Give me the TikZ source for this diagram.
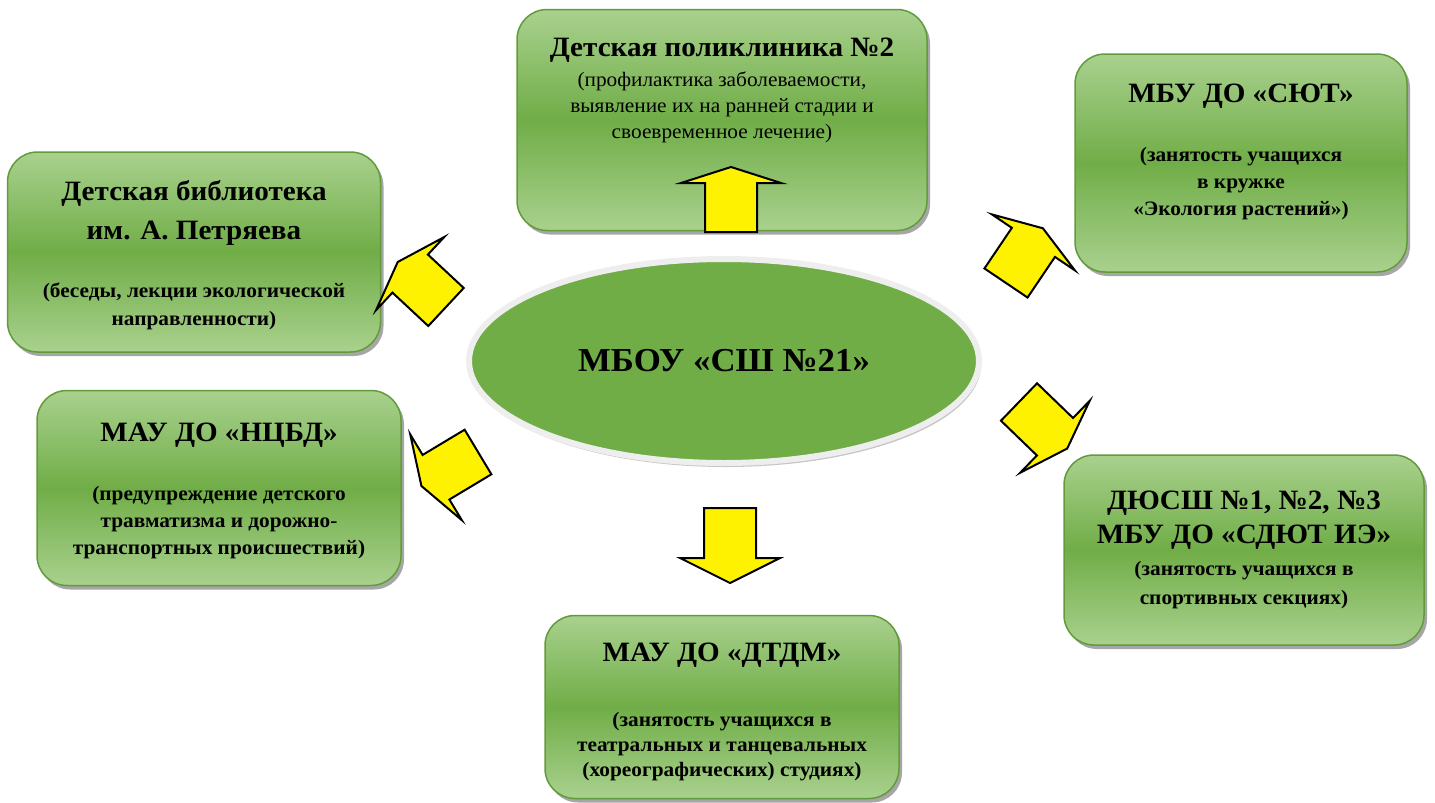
\documentclass[tikz,border=0pt]{standalone}
\usepackage{fontspec}
\setmainfont[FakeStretch=1.04]{Liberation Serif}
\usetikzlibrary{positioning,shapes.geometric,shadows}

\definecolor{leaflight}{RGB}{169,209,142}
\definecolor{leafdark}{RGB}{112,173,71}
\definecolor{leafline}{RGB}{98,155,60}
\definecolor{rimgray}{RGB}{238,238,238}

% yellow block arrow: base point, angle, shaft length, head length
\newcommand\blockarrow[4]{%
  \draw[yellowarrow, shift={#1}, rotate=#2]
    (0,-26) -- (#3,-26) -- (#3,-50) -- ({#3+#4},0) -- (#3,50) -- (#3,26) -- (0,26) -- cycle;}

\tikzset{
  partner/.style={rectangle, rounded corners=30pt, draw=leafline, line width=1.5pt,
    top color=leaflight, bottom color=leaflight, middle color=leafdark,
    drop shadow={shadow xshift=3pt, shadow yshift=-4pt, opacity=.7}},
  hub/.style={ellipse, draw=rimgray, line width=6pt, fill=leafdark,
    minimum width=510pt, minimum height=204pt,
    drop shadow={shadow xshift=2pt, shadow yshift=-4pt, opacity=.45},
    font=\fontsize{33.5}{38}\selectfont\bfseries},
  headtext/.style={inner sep=0pt, align=center, font=\fontsize{28}{33}\selectfont\bfseries},
  subtext/.style={inner sep=0pt, align=center, font=\fontsize{20.5}{27}\selectfont\bfseries},
  yellowarrow/.style={fill=yellow, draw=black, line width=2pt}
}

\begin{document}
\begin{tikzpicture}[x=1pt, y=-1pt]
\useasboundingbox (0,0) rectangle (1435,803);

% partner boxes
\node[partner, minimum width=410pt, minimum height=221pt] (clinic) at (722,120) {};
\node[partner, minimum width=373pt, minimum height=200pt] (library) at (194,252) {};
\node[partner, minimum width=364pt, minimum height=195pt] (safety) at (219,488) {};
\node[partner, minimum width=332pt, minimum height=218pt] (station) at (1241,163) {};
\node[partner, minimum width=360pt, minimum height=190pt] (sport) at (1244,550) {};
\node[partner, minimum width=354pt, minimum height=183pt] (theatre) at (722,707) {};

% texts in the boxes
\node[headtext, below=29pt of clinic.north] (clinichead) {Детская поликлиника №2};
\node[subtext, font=\fontsize{20.5}{26}\selectfont, below=9pt of clinichead] (clinicnote)
  {(профилактика заболеваемости,\\выявление их на ранней стадии и\\своевременное лечение)};

\node[headtext, below=29pt of library.north] (libraryhead) {Детская библиотека\\[6pt]им. А. Петряева};
\node[subtext, below=37pt of libraryhead] (librarynote) {(беседы, лекции экологической\\[1pt]направленности)};

\node[headtext, below=33pt of safety.north] (safetyhead) {МАУ ДО «НЦБД»};
\node[subtext, below=38pt of safetyhead] (safetynote)
  {(предупреждение детского\\травматизма и дорожно-\\транспортных происшествий)};

\node[headtext, below=31pt of station.north] (stationhead) {МБУ ДО «СЮТ»};
\node[subtext, below=38pt of stationhead] (stationnote) {(занятость учащихся\\в кружке\\«Экология растений»)};

\node[headtext, below=37pt of sport.north] (sporthead) {ДЮСШ №1, №2, №3\\[1pt]МБУ ДО «СДЮТ ИЭ»};
\node[subtext, below=11pt of sporthead] (sportnote) {(занятость учащихся в\\[2pt]спортивных секциях)};

\node[headtext, below=28pt of theatre.north] (theatrehead) {МАУ ДО «ДТДМ»};
\node[subtext, font=\fontsize{20.5}{25}\selectfont\bfseries, below=44pt of theatrehead] (theatrenote)
  {(занятость учащихся в\\театральных и танцевальных\\(хореографических) студиях)};

% the school
\node[hub] (school) at (724,361) {МБОУ «СШ №21»};

% arrows
\blockarrow{(731,232)}{90}{49}{16}
\blockarrow{(446,307)}{137}{49}{17}
\blockarrow{(1006,283)}{56}{49}{17}
\blockarrow{(1019,402)}{-44}{50}{17}
\blockarrow{(478,452)}{211}{49}{17}
\blockarrow{(730,508)}{-90}{50}{25}
\end{tikzpicture}
\end{document}
